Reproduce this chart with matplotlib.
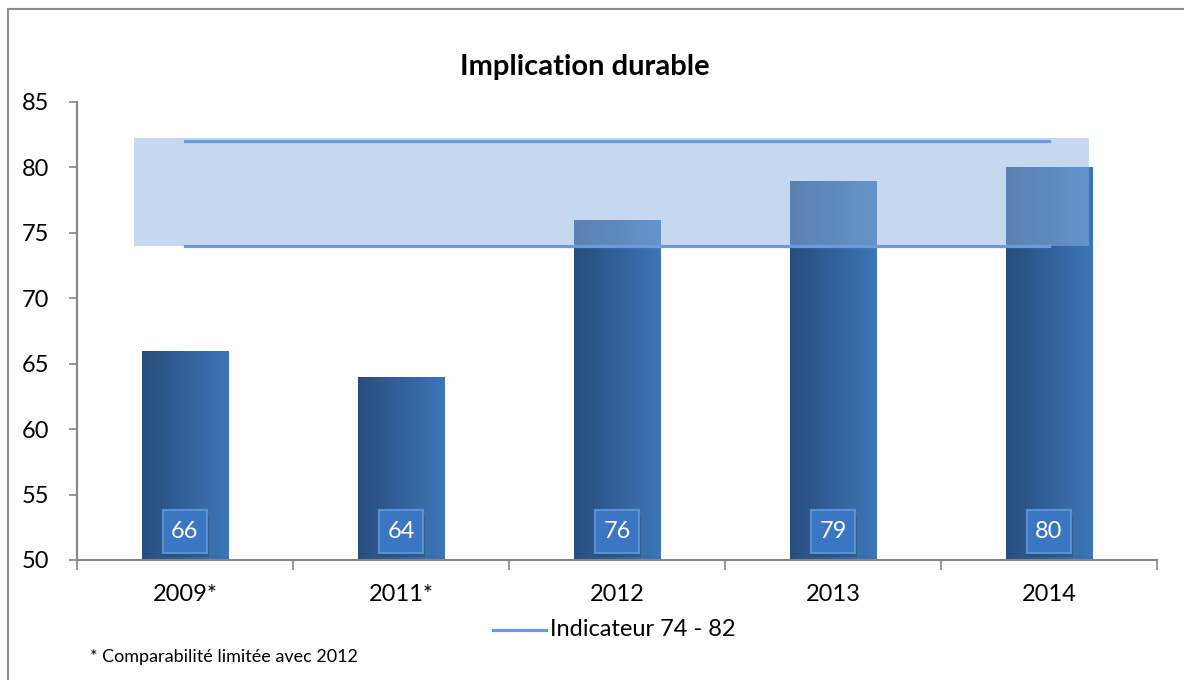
import matplotlib
matplotlib.use("Agg")
import matplotlib.pyplot as plt
import numpy as np
from matplotlib.patches import Rectangle
from matplotlib.lines import Line2D
from matplotlib.colors import LinearSegmentedColormap

categories = ["2009*", "2011*", "2012", "2013", "2014"]
values = [66, 64, 76, 79, 80]
indicator_low = 74
indicator_high = 82
yticks = [50, 55, 60, 65, 70, 75, 80, 85]

plt.rcParams['font.family'] = ['Lato', 'DejaVu Sans']

W, H = 1184, 680
fig = plt.figure(figsize=(W/100, H/100), dpi=100)
ax = fig.add_axes([77/W, (H-560)/H, (1157-77)/W, (560-102)/H])

x = np.arange(len(categories))
bars = ax.bar(x, values, width=0.40, bottom=0, color='#2f5f99', zorder=2)
ax.set_ylim(50, 85)
ax.set_xlim(-0.5, len(categories)-0.5)

# gradient fill for bars
grad = np.linspace(0, 1, 256).reshape(1, -1)
cmap = LinearSegmentedColormap.from_list('g', ['#284d7c', '#3d75b8'])
for b in bars:
    x0, w, h = b.get_x(), b.get_width(), b.get_height()
    im = ax.imshow(grad, extent=[x0, x0+w, 50, h], aspect='auto', cmap=cmap,
                   zorder=2.1, interpolation='bicubic')
    im.set_clip_path(b)

# indicator band
band = Rectangle((x[0]-0.236, indicator_low), (x[-1]+0.185) - (x[0]-0.236),
                 (indicator_high+0.25) - indicator_low,
                 facecolor='#8db3e2', alpha=0.5, edgecolor='none', zorder=3)
ax.add_patch(band)
ax.plot([x[0], x[-1]], [indicator_high, indicator_high], color='#6b9bdc', lw=2.3, zorder=4)
ax.plot([x[0], x[-1]], [indicator_low, indicator_low], color='#6b9bdc', lw=2.3, zorder=4)

# value labels
bw, by0, bh = 0.205, 50.55, 3.25
for xi, v in zip(x, values):
    ax.add_patch(Rectangle((xi-bw/2+0.01, by0-0.35), bw, bh, facecolor='#1f3f66',
                           alpha=0.35, edgecolor='none', zorder=5))
    ax.add_patch(Rectangle((xi-bw/2, by0), bw, bh, facecolor='#3a76c2',
                           edgecolor='#5b90d2', lw=1.5, zorder=5.5))
    ax.text(xi, by0+bh/2, f"{v}", ha='center', va='center', color='white', fontsize=17,
            zorder=6)

# axes styling
for s in ['top', 'right']:
    ax.spines[s].set_visible(False)
for s in ['left', 'bottom']:
    ax.spines[s].set_color('#868686')
    ax.spines[s].set_linewidth(1.5)
ax.set_yticks(yticks)
ax.set_yticklabels([str(t) for t in yticks], fontsize=17)
ax.tick_params(axis='y', length=6, width=1.2, color='#868686', pad=14)
ax.set_xticks(np.arange(-0.5, len(categories)), minor=False)
ax.set_xticklabels([])
ax.tick_params(axis='x', which='major', length=7, width=1.2, color='#868686', direction='out')
ax.set_xticks(x, minor=True)
ax.set_xticklabels(categories, minor=True, fontsize=17)
ax.tick_params(axis='x', which='minor', length=0, pad=17)

fig.text(585/W, 1-67/H, "Implication durable", fontsize=21, fontweight='bold',
         ha='center', va='center')

# legend
fig.add_artist(Line2D([493/W, 546/W], [1-630/H, 1-630/H], color='#6b9bdc', lw=2.3))
fig.text(550/W, 1-630/H, "Indicateur 74 - 82", fontsize=17, va='center', ha='left')

# footnote
fig.text(90/W, 1-657/H, "* Comparabilité limitée avec 2012", fontsize=13, va='center', ha='left')

# chart border
fig.add_artist(Rectangle((8/W, -0.1), 1.2, 1-9/H+0.1, transform=fig.transFigure,
                         facecolor='none', edgecolor='#8c8c8c', lw=1.5))

fig.savefig("out.png", dpi=100)
